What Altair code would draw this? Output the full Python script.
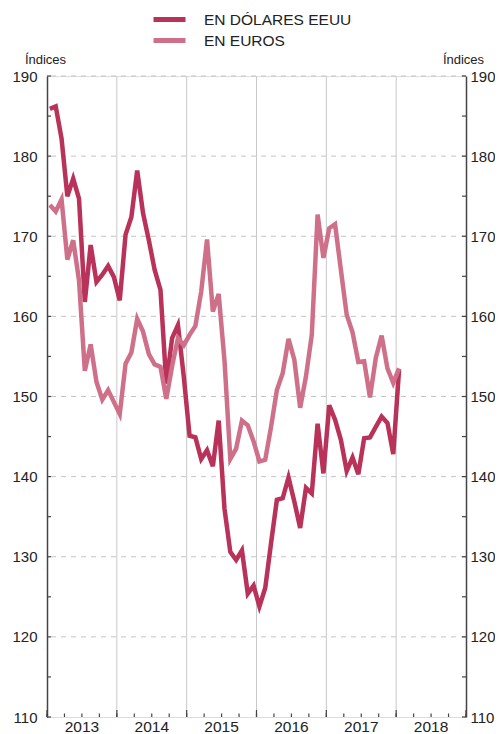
import altair as alt
import pandas as pd

# ---- data -------------------------------------------------------------
series_names = ["EN DÓLARES EEUU", "EN EUROS"]
series_colors = ["#b8325a", "#cf708b"]

months = [f"{y}-{m:02d}" for y in range(2013, 2018) for m in range(1, 13)] + ["2018-01"]

dolares = [
    185.9, 186.2, 182.2, 175.0, 177.2, 174.7, 161.8, 168.9, 164.3, 165.2, 166.3, 164.9,
    162.0, 170.2, 172.4, 178.2, 172.9, 169.5, 165.8, 163.3, 151.6, 157.3, 158.9, 152.5,
    145.1, 144.9, 142.2, 143.3, 141.3, 147.0, 136.0, 130.6, 129.6, 130.8, 125.4, 126.4,
    123.8, 126.1, 131.7, 137.1, 137.3, 139.9, 136.9, 133.6, 138.6, 137.9, 146.6, 140.4,
    148.9, 147.1, 144.6, 140.7, 142.4, 140.3, 144.8, 144.9, 146.2, 147.5, 146.7, 142.8,
    153.4,
]
euros = [
    173.9, 173.1, 174.6, 167.1, 169.5, 164.5, 153.2, 156.5, 151.8, 149.6, 150.8, 149.3,
    147.8, 154.1, 155.5, 159.7, 158.1, 155.3, 154.0, 153.7, 149.7, 153.8, 157.3, 156.4,
    157.7, 158.8, 163.1, 169.6, 160.6, 162.8, 154.5, 142.2, 143.5, 147.0, 146.4, 144.4,
    141.9, 142.1, 146.2, 150.8, 152.9, 157.2, 154.6, 148.6, 152.5, 157.7, 172.7, 167.3,
    171.0, 171.5, 165.8, 160.2, 158.0, 154.3, 154.4, 149.9, 154.8, 157.6, 153.5, 151.7,
    153.5,
]

year_labels = ["2013", "2014", "2015", "2016", "2017", "2018"]
y_labels = [110, 120, 130, 140, 150, 160, 170, 180, 190]
y_minor = [110, 115, 120, 125, 130, 135, 140, 145, 150, 155, 160, 165, 170, 175, 180, 185, 190]

# ---- tables -----------------------------------------------------------
n = len(months)
df = pd.DataFrame({
    "mes": months * 2,
    "x": [i + 0.5 for i in range(n)] * 2,
    "valor": dolares + euros,
    "serie": [series_names[0]] * n + [series_names[1]] * n,
})
year_df = pd.DataFrame({"anio": year_labels, "c": [12 * i + 6 for i in range(len(year_labels))]})
year_bounds = pd.DataFrame({"b": [12 * i for i in range(1, len(year_labels))]})
year_ticks = pd.DataFrame({"b": [12 * i for i in range(len(year_labels) + 1)]})
quarter_ticks = pd.DataFrame({"q": [3 * i for i in range(4 * len(year_labels) + 1)]})
grid_df = pd.DataFrame({"v": y_labels[1:]})
minor_df = pd.DataFrame({"v": y_minor})

W, H = 419, 641
FONT = "Liberation Sans"
DARK = "#222222"
AXIS = "#444444"

xscale = alt.Scale(domain=[0, 12 * len(year_labels)], nice=False, zero=False)
yscale = alt.Scale(domain=[110, 190], nice=False, zero=False)

x_axis = alt.Axis(
    grid=False, ticks=False, labels=False, domain=True, domainColor=AXIS, domainWidth=1.5,
    title=None,
)
left_axis = alt.Axis(
    orient="left", values=y_labels, grid=False, ticks=False, domain=True,
    domainColor=AXIS, domainWidth=1.5, labelFontSize=15, labelPadding=10,
    labelColor=DARK, labelFont=FONT,
    title="Índices", titleAngle=0, titleX=-2, titleY=-13, titleAlign="center",
    titleBaseline="alphabetic", titleFontSize=13, titleFontWeight="normal",
    titleColor=DARK, titleFont=FONT,
)
right_axis = alt.Axis(
    orient="right", values=y_labels, grid=False, ticks=False, domain=True,
    domainColor=AXIS, domainWidth=1.5, labelFontSize=15, labelPadding=4,
    labelColor=DARK, labelFont=FONT,
    title="Índices", titleAngle=0, titleX=-3, titleY=-13, titleAlign="center",
    titleBaseline="alphabetic", titleFontSize=13, titleFontWeight="normal",
    titleColor=DARK, titleFont=FONT,
)

legend = alt.Legend(
    orient="none", legendX=112, legendY=-67, title=None,
    symbolType="M-2,0H2", symbolSize=256, symbolStrokeWidth=5,
    labelFontSize=15.5, labelOffset=24, labelColor=DARK, labelFont=FONT,
    rowPadding=0, padding=0,
)

vgrid = alt.Chart(year_bounds).mark_rule(color="#c8c8c8", strokeWidth=1).encode(
    x=alt.X("b:Q", scale=xscale, axis=None)
)
hgrid = alt.Chart(grid_df).mark_rule(color="#c4c4c4", strokeWidth=1, strokeDash=[5, 5]).encode(
    y=alt.Y("v:Q", scale=yscale, axis=left_axis)
)
lines = alt.Chart(df).mark_line(strokeWidth=4.5).encode(
    x=alt.X("x:Q", scale=xscale, axis=x_axis),
    y=alt.Y("valor:Q", scale=yscale, axis=None),
    color=alt.Color("serie:N", scale=alt.Scale(domain=series_names, range=series_colors), legend=legend),
)
lticks = alt.Chart(minor_df).mark_rule(color=AXIS, strokeWidth=1.2).encode(
    y=alt.Y("v:Q", scale=yscale, axis=None), x=alt.value(0), x2=alt.value(4)
)
rticks = alt.Chart(minor_df).mark_rule(color=AXIS, strokeWidth=1.2).encode(
    y=alt.Y("v:Q", scale=yscale, axis=right_axis), x=alt.value(W - 4), x2=alt.value(W)
)
qticks = alt.Chart(quarter_ticks).mark_rule(color=AXIS, strokeWidth=1.2).encode(
    x=alt.X("q:Q", scale=xscale, axis=None), y=alt.value(H), y2=alt.value(H - 3.5)
)
yticks = alt.Chart(year_ticks).mark_rule(color=AXIS, strokeWidth=1.2).encode(
    x=alt.X("b:Q", scale=xscale, axis=None), y=alt.value(H), y2=alt.value(H - 7)
)
ylabels = alt.Chart(year_df).mark_text(
    fontSize=15.5, font=FONT, color=DARK, baseline="top", align="center", dy=2.5
).encode(
    x=alt.X("c:Q", scale=xscale, axis=None), y=alt.value(H), text="anio:N"
)

chart = (
    alt.layer(vgrid, hgrid, lines, lticks, rticks, qticks, yticks, ylabels)
    .resolve_scale(y="shared", x="shared")
    .resolve_axis(y="independent")
    .properties(
        width=W, height=H,
        autosize=alt.AutoSizeParams(type="none"),
        padding={"left": 39, "top": 68, "right": 29, "bottom": 17},
    )
    .configure_view(strokeWidth=0)
    .configure(font=FONT)
)

chart.save("out.html", embed_options={"renderer": "svg", "actions": False})
